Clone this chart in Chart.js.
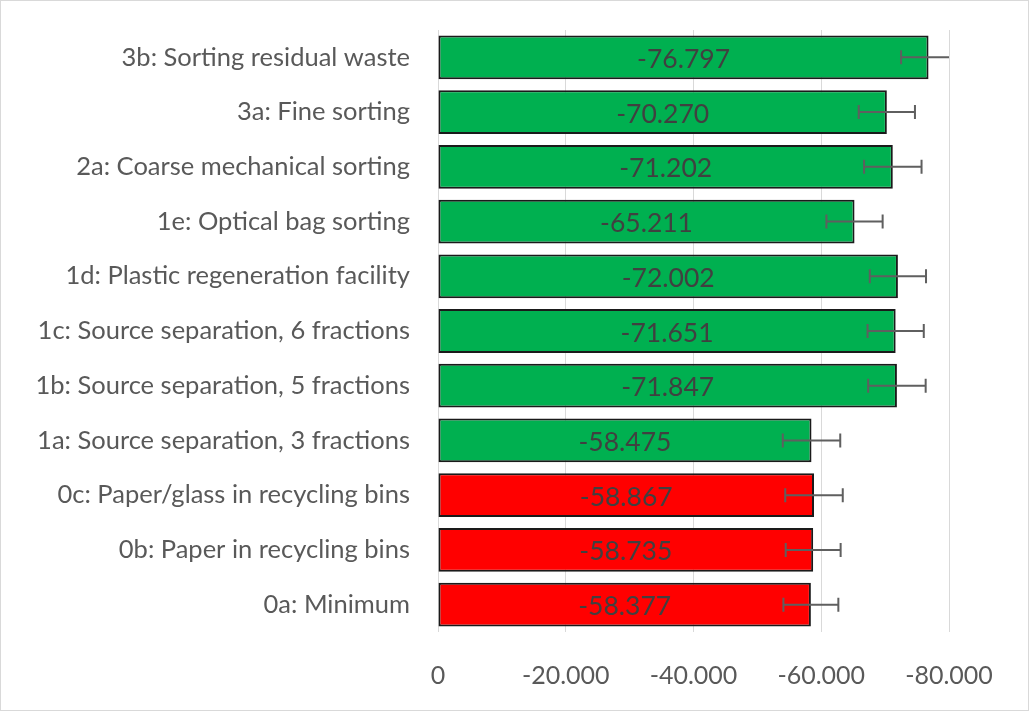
<!DOCTYPE html>
<html>
<head>
<meta charset="utf-8">
<script src="https://cdn.jsdelivr.net/npm/chart.js@4/dist/chart.umd.min.js"></script>
<style>
  html, body { margin: 0; padding: 0; background: #fff; }
  #wrap { width: 1029px; height: 711px; position: relative; }
</style>
</head>
<body>
<div id="wrap"><canvas id="chart"></canvas></div>
<script>
// categories, top to bottom
const scenarios = [
  "3b: Sorting residual waste",
  "3a: Fine sorting",
  "2a: Coarse mechanical sorting",
  "1e: Optical bag sorting",
  "1d: Plastic regeneration facility",
  "1c: Source separation, 6 fractions",
  "1b: Source separation, 5 fractions",
  "1a: Source separation, 3 fractions",
  "0c: Paper/glass in recycling bins",
  "0b: Paper in recycling bins",
  "0a: Minimum"
];
const values = [-76.797, -70.270, -71.202, -65.211, -72.002, -71.651, -71.847, -58.475, -58.867, -58.735, -58.377];
const errors = [4.3, 4.4, 4.5, 4.4, 4.4, 4.4, 4.5, 4.5, 4.5, 4.3, 4.3];
const groups = ["new", "new", "new", "new", "new", "new", "new", "new", "base", "base", "base"];
const xTicks = [0, -20, -40, -60, -80];

const fontFamily = "Lato, 'Open Sans', sans-serif";
const barColors = groups.map(g => (g === "base" ? "#ff0000" : "#00b050"));

const fmt = v => (v === 0 ? "0" : v.toFixed(3));

// value labels in the middle of each bar + error bars
const extras = {
  id: "extras",
  afterDatasetsDraw(chart) {
    const ctx = chart.ctx;
    const meta = chart.getDatasetMeta(0);
    const xs = chart.scales.x;
    const area = chart.chartArea;

    ctx.save();
    ctx.font = "26.5px " + fontFamily;
    ctx.fillStyle = "#404040";
    ctx.textAlign = "center";
    ctx.textBaseline = "middle";
    meta.data.forEach((bar, i) => {
      ctx.fillText(fmt(values[i]), (bar.x + bar.base) / 2, bar.y + 2);
    });

    ctx.beginPath();
    ctx.rect(area.left, area.top - 10, area.right - area.left, area.bottom - area.top + 20);
    ctx.clip();
    ctx.strokeStyle = "#5f5f5f";
    ctx.lineWidth = 2;
    meta.data.forEach((bar, i) => {
      const x1 = xs.getPixelForValue(values[i] + errors[i]);
      const x2 = xs.getPixelForValue(values[i] - errors[i]);
      const y = bar.y;
      ctx.beginPath();
      ctx.moveTo(x1, y); ctx.lineTo(x2, y);
      ctx.moveTo(x1, y - 7); ctx.lineTo(x1, y + 7);
      ctx.moveTo(x2, y - 7); ctx.lineTo(x2, y + 7);
      ctx.stroke();
    });
    ctx.restore();
  },
  afterDraw(chart) {
    const ctx = chart.ctx;
    ctx.save();
    ctx.strokeStyle = "#d9d9d9";
    ctx.lineWidth = 1;
    ctx.strokeRect(0.5, 0.5, chart.width - 1, chart.height - 1);
    ctx.restore();
  }
};

new Chart(document.getElementById("chart"), {
  type: "bar",
  data: {
    labels: scenarios,
    datasets: [{
      data: values,
      backgroundColor: barColors,
      borderColor: "#1a1a1a",
      borderWidth: 2,
      borderSkipped: false,
      barPercentage: 0.8,
      categoryPercentage: 1.0
    }]
  },
  options: {
    indexAxis: "y",
    responsive: true,
    maintainAspectRatio: false,
    animation: false,
    layout: { padding: { top: 30, right: 80, bottom: 0, left: 0 } },
    plugins: {
      legend: { display: false },
      tooltip: { enabled: false }
    },
    scales: {
      x: {
        min: -80,
        max: 0,
        reverse: true,
        afterBuildTicks: scale => { scale.ticks = xTicks.map(v => ({ value: v })); },
        afterFit: scale => { scale.height = 79; },
        grid: { color: "#d9d9d9", lineWidth: 1, drawTicks: false },
        border: { display: false },
        ticks: {
          padding: 29,
          color: "#595959",
          font: { family: fontFamily, size: 25 },
          callback: v => fmt(v)
        }
      },
      y: {
        afterFit: scale => {
          scale.width = 438;
          scale.paddingTop = 0;
          scale.paddingBottom = 0;
        },
        grid: { display: false, drawTicks: false },
        border: { display: false },
        ticks: {
          padding: 28,
          color: "#595959",
          font: { family: fontFamily, size: 25.5 }
        }
      }
    }
  },
  plugins: [extras]
});
</script>
</body>
</html>
